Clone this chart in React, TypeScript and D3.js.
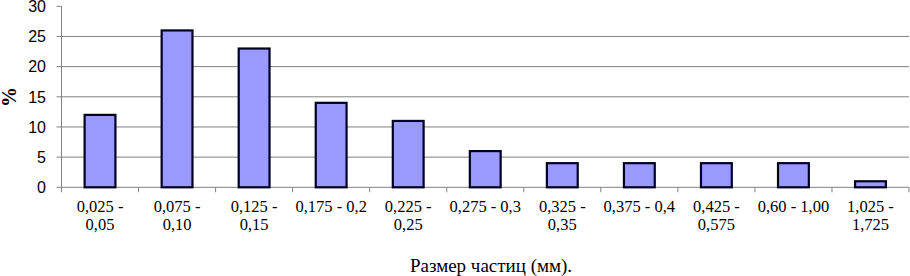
import React from "react";
import * as d3 from "d3";

const categories: string[][] = [
  ["0,025 -", "0,05"],
  ["0,075 -", "0,10"],
  ["0,125 -", "0,15"],
  ["0,175 - 0,2"],
  ["0,225 -", "0,25"],
  ["0,275 - 0,3"],
  ["0,325 -", "0,35"],
  ["0,375 - 0,4"],
  ["0,425 -", "0,575"],
  ["0,60 - 1,00"],
  ["1,025 -", "1,725"],
];
const values: number[] = [12, 26, 23, 14, 11, 6, 4, 4, 4, 4, 1];
const yTicks: number[] = [0, 5, 10, 15, 20, 25, 30];
const xTitle = "Размер частиц (мм).";
const yTitle = "%";

const SERIF = "'Liberation Serif', 'Times New Roman', Times, serif";
const SANS = "'Liberation Sans', Arial, sans-serif";

export default function App() {
  const W = 910, H = 276;
  const left = 61.5, right = 909, top = 6.3, bottom = 187.3;
  const ids = categories.map((_, i) => String(i));
  const x = d3.scaleBand<string>().domain(ids).range([left, right]).paddingInner(0.6).paddingOuter(0.3);
  const xb = d3.scaleBand<string>().domain(ids).range([left, right]);
  const y = d3.scaleLinear().domain([0, 30]).range([bottom, top]);
  const grid = "#808080";
  return (
    <svg width={W} height={H} style={{ position: "absolute", left: 0, top: 0, background: "#fff" }}>
      {yTicks.filter((t) => t > 0 && t < 30).map((t) => (
        <line key={"g" + t} x1={left} x2={right} y1={y(t)} y2={y(t)} stroke={grid} strokeWidth={1} />
      ))}
      <line x1={left} x2={left} y1={top} y2={bottom} stroke={grid} strokeWidth={1} />
      <line x1={left} x2={right} y1={bottom} y2={bottom} stroke={grid} strokeWidth={1} />
      {yTicks.map((t) => (
        <g key={"y" + t}>
          <line x1={left - 5} x2={left} y1={y(t)} y2={y(t)} stroke={grid} />
          <text x={46} y={y(t)} dy="0.36em" textAnchor="end" style={{ fontFamily: SANS }} fontSize={16} fill="#000">
            {t}
          </text>
        </g>
      ))}
      {ids.concat(["end"]).map((id, i) => {
        const xp = i < ids.length ? (xb(id) as number) : right;
        return <line key={"xt" + i} x1={xp} x2={xp} y1={bottom} y2={bottom + 5} stroke={grid} />;
      })}
      {values.map((v, i) => (
        <rect
          key={"b" + i}
          x={x(ids[i])}
          y={y(v)}
          width={x.bandwidth()}
          height={y(0) - y(v)}
          fill="#9999FF"
          stroke="#000020"
          strokeWidth={2.2}
        />
      ))}
      {categories.map((lines, i) => {
        const cx = (xb(ids[i]) as number) + xb.bandwidth() / 2;
        return (
          <text key={"c" + i} x={cx} textAnchor="middle" style={{ fontFamily: SERIF }} fontSize={16.5} fill="#000">
            {lines.map((l, j) => (
              <tspan key={j} x={cx} y={212 + j * 18}>
                {l}
              </tspan>
            ))}
          </text>
        );
      })}
      <text x={491} y={272} textAnchor="middle" style={{ fontFamily: SERIF }} fontSize={19} fill="#000">
        {xTitle}
      </text>
      <text
        transform={`translate(16,97) rotate(-90)`}
        textAnchor="middle"
        style={{ fontFamily: SERIF }}
        fontWeight="bold"
        fontSize={20}
        fill="#000"
      >
        {yTitle}
      </text>
    </svg>
  );
}
